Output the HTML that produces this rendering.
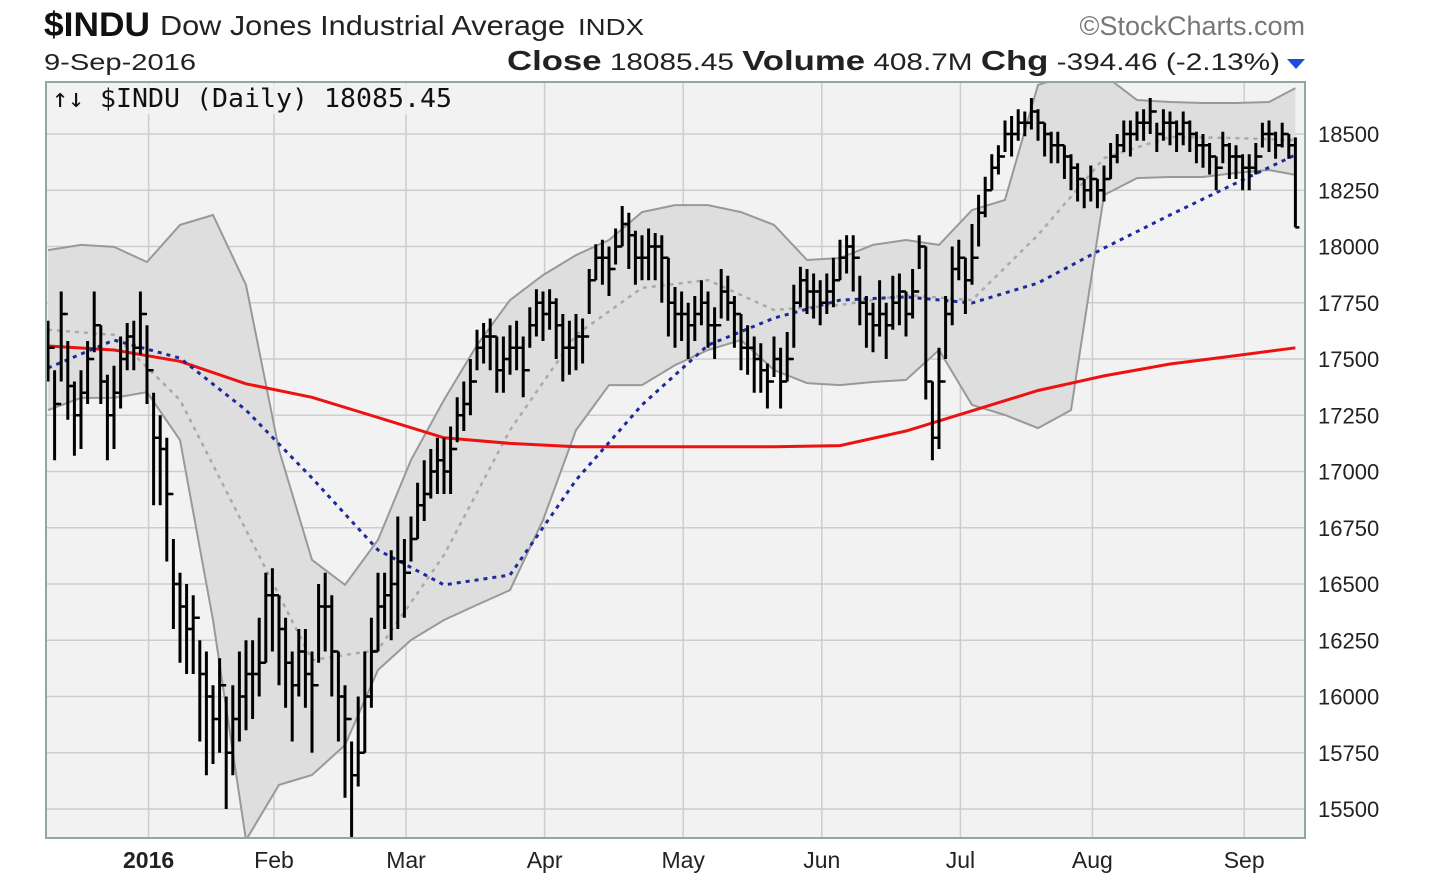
<!DOCTYPE html>
<html><head><meta charset="utf-8">
<style>
html,body{margin:0;padding:0;background:#fff;}
svg{display:block;font-family:"Liberation Sans",sans-serif;}
</style></head>
<body>
<svg id="chart" width="1444" height="883" viewBox="0 0 1444 883" xmlns="http://www.w3.org/2000/svg">
  <rect x="0" y="0" width="1444" height="883" fill="#fff"/>
  <text x="44" y="36" font-size="34" font-weight="bold" fill="#111" textLength="106" lengthAdjust="spacingAndGlyphs">$INDU</text>
  <text x="160" y="35" font-size="28" fill="#222" textLength="405" lengthAdjust="spacingAndGlyphs">Dow Jones Industrial Average</text>
  <text x="578" y="35" font-size="23" fill="#222" textLength="66" lengthAdjust="spacingAndGlyphs">INDX</text>
  <text x="1305" y="35" font-size="27" fill="#777" text-anchor="end">©StockCharts.com</text>
  <text x="44" y="70" font-size="23" fill="#222" textLength="152" lengthAdjust="spacingAndGlyphs">9-Sep-2016</text>
  <text x="507" y="70" font-size="24" fill="#222" textLength="773" lengthAdjust="spacingAndGlyphs"><tspan font-weight="bold" font-size="28">Close</tspan> 18085.45  <tspan font-weight="bold" font-size="28">Volume</tspan> 408.7M  <tspan font-weight="bold" font-size="28">Chg</tspan> -394.46 (-2.13%)</text>
  <path d="M1287,59 L1305,59 L1296,69 Z" fill="#1a4fd8"/>
  <rect x="46" y="82" width="1259" height="756" fill="#f2f2f2"/>
  <g id="grid"></g>
  <g id="bands"></g>
  <g id="lines"></g>
  <g id="bars"></g>
  <rect x="46" y="82" width="1259" height="756" fill="none" stroke="#8fa8a6" stroke-width="2"/>
  <rect x="48" y="84" width="410" height="30" fill="#f2f2f2" opacity="0.85"/>
  <text x="52" y="107" font-size="26" fill="#111" font-family="'DejaVu Sans Mono','Liberation Mono',monospace" textLength="400" lengthAdjust="spacingAndGlyphs">↑↓ $INDU (Daily) 18085.45</text>
  <g id="yaxis"></g>
  <g id="xaxis"></g>
</svg>
<script>
const closes = [
17550,17300,17700,17380,17250,17350,17500,17650,17400,17250,17350,17500,17600,17550,17700,17450,
17150,17100,16900,16500,16400,16300,16350,16100,16000,15900,16050,15750,15900,16000,16100,16100,16150,16450,16450,
16300,16150,16050,16200,16100,16050,16400,16400,16200,16000,15900,15650,15750,16000,16200,16400,16450,16500,16600,16550,
16700,16850,16900,17000,17050,17000,17100,17250,17300,17400,17550,17600,17600,17450,17500,17550,17550,17450,17650,17750,17700,
17750,17650,17550,17550,17600,17600,17850,17950,17950,17900,18000,18100,18050,17950,17950,18000,18000,17950,17750,17700,17700,
17650,17700,17750,17650,17650,17800,17750,17700,17550,17550,17500,17450,17400,17500,17400,17500,17750,17850,17800,17800,17750,
17800,17850,17950,18000,17950,17750,17700,17650,17700,17650,17750,17800,17700,17800,18000,17400,17150,17400,17700,17900,17950,
17850,17950,18150,18250,18350,18400,18500,18500,18550,18550,18600,18550,18500,18450,18450,18400,18350,18300,18250,18300,
18250,18300,18400,18450,18500,18500,18550,18550,18600,18500,18550,18550,18500,18550,18500,18450,18450,18400,18350,18450,18400,18400,18350,
18350,18400,18500,18500,18450,18500,18450,18085];
const upRange = [
120,150,100,200,150,100,80,150,250,180,120,100,60,120,100,200,
200,150,250,200,150,200,100,150,200,150,120,250,150,200,150,150,200,100,120,
150,200,150,100,200,150,100,150,250,200,150,150,250,200,150,150,100,150,200,150,
100,100,150,100,100,150,100,80,100,100,80,60,80,150,100,100,120,150,80,60,100,
60,120,150,120,100,80,50,60,80,100,80,80,100,120,100,80,60,100,200,120,100,
100,80,100,150,80,100,120,80,150,100,100,120,80,100,150,120,80,60,100,80,100,
80,100,80,50,100,120,80,100,150,100,120,80,100,100,50,600,250,150,80,100,80,
100,150,80,60,60,50,60,80,60,50,60,60,50,60,60,50,60,70,50,60,
50,60,60,50,60,60,50,60,60,50,60,50,60,50,60,60,50,60,50,60,60,50,60,
60,60,50,60,60,50,50,400];
const downRange = [
150,250,300,150,180,250,200,120,100,200,250,220,150,100,180,150,
300,250,300,200,250,200,250,300,350,200,300,250,250,200,250,200,150,300,250,
250,200,250,200,150,300,250,200,200,200,350,300,150,250,250,200,150,250,300,200,
100,150,120,120,150,100,200,120,120,150,100,120,150,100,150,120,100,120,100,150,120,
120,150,150,120,150,120,150,100,120,120,80,100,150,120,100,150,150,200,150,150,120,
150,120,100,100,150,120,80,150,100,120,150,100,120,80,120,100,200,120,100,120,100,
100,120,100,120,150,100,150,120,100,150,120,150,100,120,100,80,100,300,200,250,100,
150,120,150,120,100,80,80,100,80,60,80,80,100,80,80,100,100,100,80,100,
80,100,100,80,80,100,80,80,100,80,80,100,80,100,80,80,100,80,100,80,100,100,100,
100,80,60,80,60,60,60,0];
const sampleIdx = [0,10,20,30,40,50,60,70,80,90,100,110,120,130,140,150,160,170,180,189];
const sma200 = [17558,17540,17490,17390,17330,17240,17150,17125,17110,17110,17110,17110,17115,17180,17270,17360,17425,17478,17515,17550];
const sma50 = [17460,17584,17504,17273,16971,16651,16496,16540,16962,17296,17562,17682,17762,17776,17749,17838,17993,18140,18282,18407];
const sma20 = [17630,17607,17318,16740,16162,16207,16629,17184,17607,17816,17851,17718,17740,17784,17762,18051,18393,18487,18482,18473];
const bandIdx = [0,5,10,15,20,25,30,35,40,45,50,55,60,65,70,75,80,85,90,95,100,105,110,115,120,125,130,135,140,145,150,155,160,165,170,175,180,185,189];
const bandUpper = [17984,18007,17998,17931,18096,18140,17829,17096,16607,16496,16696,17051,17318,17562,17762,17873,17962,18029,18153,18184,18184,18153,18096,17940,17949,18007,18029,18007,18162,18207,18718,18762,18762,18651,18642,18638,18638,18642,18704];
const bandLower = [17273,17327,17327,17353,17140,16340,15362,15607,15651,15784,16118,16251,16340,16407,16473,16784,17184,17384,17384,17473,17540,17584,17451,17393,17384,17398,17407,17540,17296,17251,17193,17273,18229,18304,18309,18309,18327,18340,18318];
const yTicks = [15500,15750,16000,16250,16500,16750,17000,17250,17500,17750,18000,18250,18500];
const monthLabels = ["2016","Feb","Mar","Apr","May","Jun","Jul","Aug","Sep"];
const monthIdx = [16,35,55,76,97,118,139,159,182];

const NS = "http://www.w3.org/2000/svg";
const PL=46, PR=1305, PT=82, PB=838;
function xScale(i){ return 48 + i*6.6; }
function yScale(v){ return 134 + (18500 - v)*0.225; }
function mk(tag, attrs, parent){
  const e=document.createElementNS(NS,tag);
  for(const k in attrs) e.setAttribute(k, attrs[k]);
  parent.appendChild(e); return e;
}
const grid=document.getElementById('grid');
yTicks.forEach(v=>{
  const l=mk('line',{x1:PL,x2:PR,y1:yScale(v),y2:yScale(v),stroke:'#cdcdcd','stroke-width':1.5},grid);
  
  
});
monthIdx.forEach(i=>{
  const x=xScale(i)-5;
  const l=mk('line',{x1:x,x2:x,y1:PT,y2:PB,stroke:'#cdcdcd','stroke-width':1.5},grid);
  
  
});
const defs=mk('defs',{},document.getElementById('chart'));
const cp=mk('clipPath',{id:'plotclip'},defs);
mk('rect',{x:PL,y:PT,width:PR-PL,height:PB-PT},cp);
const bands=document.getElementById('bands');
bands.setAttribute('clip-path','url(#plotclip)');
let d='';
bandIdx.forEach((i,k)=>{ d+=(k?'L':'M')+xScale(i).toFixed(1)+','+yScale(bandUpper[k]).toFixed(1); });
for(let k=bandIdx.length-1;k>=0;k--){ d+='L'+xScale(bandIdx[k]).toFixed(1)+','+yScale(bandLower[k]).toFixed(1); }
d+='Z';
const bf=mk('path',{d:d,fill:'#dedede',stroke:'none'},bands);


function linePath(idx, vals){ return idx.map((i,k)=>(k?'L':'M')+xScale(i).toFixed(1)+','+yScale(vals[k]).toFixed(1)).join(''); }
const bu=mk('path',{d:linePath(bandIdx,bandUpper),fill:'none',stroke:'#999','stroke-width':2},bands);


const bl=mk('path',{d:linePath(bandIdx,bandLower),fill:'none',stroke:'#999','stroke-width':2},bands);


const lines=document.getElementById('lines');
lines.setAttribute('clip-path','url(#plotclip)');
const s20=mk('path',{d:linePath(sampleIdx,sma20),fill:'none',stroke:'#aaa','stroke-width':2.5,'stroke-dasharray':'4 5'},lines);


const s200=mk('path',{d:linePath(sampleIdx,sma200),fill:'none',stroke:'#ee1111','stroke-width':3},lines);


const s50=mk('path',{d:linePath(sampleIdx,sma50),fill:'none',stroke:'#1c2a9c','stroke-width':3,'stroke-dasharray':'4 5'},lines);


const bars=document.getElementById('bars');
bars.setAttribute('clip-path','url(#plotclip)');
closes.forEach((c,i)=>{
  const x=xScale(i);
  const o=i?closes[i-1]:c;
  const hi=c+upRange[i], lo=c-downRange[i];
  const g=mk('g',{},bars);
  
  
  mk('line',{x1:x,x2:x,y1:yScale(hi),y2:yScale(lo),stroke:'#000','stroke-width':3},g);
  mk('line',{x1:x-4,x2:x,y1:yScale(o),y2:yScale(o),stroke:'#000','stroke-width':2.5},g);
  mk('line',{x1:x,x2:x+4,y1:yScale(c),y2:yScale(c),stroke:'#000','stroke-width':2.5},g);
});
const ya=document.getElementById('yaxis');
yTicks.forEach(v=>{
  const t=mk('text',{x:1318,y:yScale(v)+8,'font-size':22,fill:'#222'},ya);
  t.textContent=v;
  
  
});
const xa=document.getElementById('xaxis');
monthLabels.forEach((m,k)=>{
  const t=mk('text',{x:xScale(monthIdx[k])-5,y:868,'font-size':23,fill:'#222','text-anchor':'middle'},xa);
  if(k===0) t.setAttribute('font-weight','bold');
  t.textContent=m;
  
  
});
</script>
</body></html>
